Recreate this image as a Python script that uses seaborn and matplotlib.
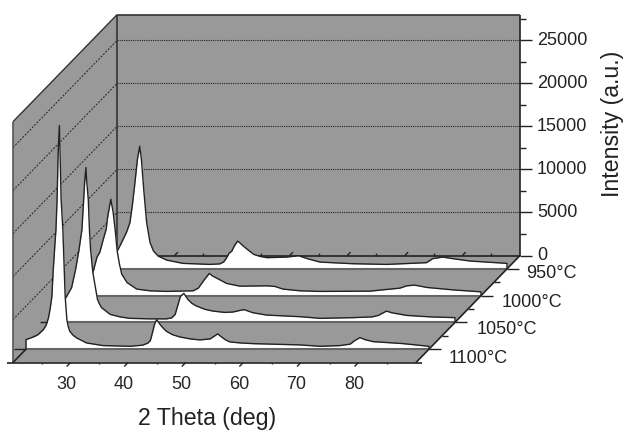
import numpy as np
import matplotlib
matplotlib.use("Agg")
import matplotlib.pyplot as plt
import seaborn as sns
from matplotlib.transforms import Affine2D, ScaledTranslation

# values
x_1100 = [20, 21.3, 22.1, 23, 23.5, 23.9, 24.2, 24.5, 24.7, 25, 25.2, 25.4, 25.6, 25.8, 25.9, 26.1, 26.4, 26.6, 26.8,
          27.1, 27.3, 27.6, 28.2, 28.8, 30.5, 33.4, 38.1, 40.3, 41.2, 41.6, 41.8, 42.1, 42.3, 42.7, 43.3, 43.9, 44.4,
          45.4, 46.7, 48.5, 50.2, 52, 52.7, 53.3, 53.9, 54.6, 55.4, 57.2, 59.4, 67.6, 71.1, 74.5, 76.3, 77.1, 78,
          78.9, 80.3, 85.5, 90]
y_1100 = [1100, 1420, 1690, 2270, 2790, 3630, 4710, 6140, 8900, 11950, 13900, 17400, 23200, 26000, 23200, 17400, 13900,
          10060, 6140, 3430, 2730, 2070, 1600, 1300, 720, 410, 330, 465, 720, 990, 1490, 2270, 2850, 3430, 2850, 2380,
          2070, 1690, 1420, 1190, 1070, 1190, 1510, 1770, 1450, 1100, 840, 720, 640, 490, 330, 410, 580, 990, 1340,
          1100, 870, 640, 330]
x_1050 = [20, 21.4, 22.4, 23.4, 24.1, 24.7, 25.2, 25.5, 25.7, 25.9, 26, 26.3, 26.5, 26.7, 27.1, 27.5, 27.9, 28.2, 28.6,
          30.1, 31.8, 33.5, 37, 39.9, 40.8, 41.4, 41.7, 42, 42.3, 42.9, 43.6, 44.3, 45.1, 46.6, 48, 50, 51.4, 52.7,
          53.4, 54.2, 54.9, 57.3, 63.1, 66.6, 72.3, 75.6, 76.7, 77.5, 78.1, 79, 81.6, 85.7, 90]
y_1050 = [1100, 2000, 2870, 4030, 6160, 8490, 10800, 14300, 16600, 18000, 16600, 14300, 10800, 8490, 5780, 4220, 2670,
          2210, 1710, 930, 640, 470, 410, 410, 520, 930, 1630, 2330, 3020, 3370, 2670, 2210, 1900, 1510, 1310, 1160,
          1200, 1400, 1480, 1280, 1120, 850, 660, 470, 550, 640, 810, 1100, 1310, 1120, 810, 640, 550]
x_1000 = [20, 21.2, 22.6, 23.3, 23.8, 24.4, 24.9, 25.1, 25.3, 25.7, 26.1, 26.5, 26.8, 27.2, 27.6, 28.5, 30.2, 32.5,
          35.4, 40, 40.9, 41.8, 42.4, 42.8, 43.4, 44.1, 45.8, 48.1, 52.8, 54.2, 55.6, 58.6, 62, 70.7, 75.9, 77.1, 78.5,
          80.6, 85.1, 90]
y_1000 = [1000, 1340, 2700, 4480, 5060, 6570, 7730, 8900, 9710, 11200, 9710, 7380, 5210, 3660, 2500, 1530, 760, 560,
          490, 560, 870, 1720, 2230, 2580, 2270, 2030, 1420, 1100, 1140, 1070, 760, 560, 490, 520, 870, 1140, 1220, 950,
          670, 440]
x_950 = [20, 21, 22.3, 22.9, 23.9, 24.5, 24.9, 25.3, 25.8, 26.2, 26.5, 26.9, 27.4, 28, 28.6, 29.4, 30.9, 33.7, 38.4,
         40.1, 40.8, 41.3, 41.7, 42.2, 42.6, 43.2, 43.6, 44.2, 45, 46, 47.1, 48.3, 51.7, 53.8, 54.9, 55.8, 57.5, 63.2,
         69.1, 76, 77.1, 78.8, 80.6, 83.6, 90]
y_950 = [1000, 1300, 2070, 2850, 4240, 5370, 7270, 9590, 12700, 14250, 12700, 9240, 5410, 3050, 2070, 1490, 1020, 640,
         520, 580, 810, 1300, 1800, 2070, 2620, 3230, 3020, 2650, 2210, 1690, 1450, 1300, 1370, 1530, 1280, 1100, 790,
         600, 520, 720, 1190, 1370, 1190, 910, 640]

series_names = ["950°C", "1000°C", "1050°C", "1100°C"]
series_x = [x_950, x_1000, x_1050, x_1100]
series_y = [y_950, y_1000, y_1050, y_1100]
series_depth = [7, 5, 3, 1]
x_major = [30, 40, 50, 60, 70, 80]
x_minor = [25, 35, 45, 55, 65, 75, 85]
y_major = [0, 5000, 10000, 15000, 20000, 25000]
y_minor = [2500, 7500, 12500, 17500, 22500, 27500]

GRAY = "#999999"
DARK = "#222222"
X0, X1, Y1 = 20, 90, 28000
DX, DY = 13 / 5.757, 13.375 / 0.0086   # one depth step in data units
BACK = 8

sns.set_style("white")
plt.rcParams['font.family'] = ['Liberation Sans', 'DejaVu Sans']
plt.rcParams['text.color'] = '#222222'

fig = plt.figure(figsize=(6.27, 4.30), dpi=100)
ax = fig.add_axes([13 / 627, 1 - 362.5 / 430, 403 / 627, 240.8 / 430])
ax.patch.set_visible(False)
sns.despine(ax=ax, left=True, bottom=True)


def depth_tr(k):
    return Affine2D().translate(k * DX, k * DY) + ax.transData


def hline(x, y, k0=0, k1=0, **kw):
    # line between two depths, x and y are lists of two values
    xs = [x[0] + k0 * DX, x[1] + k1 * DX]
    ys = [y[0] + k0 * DY, y[1] + k1 * DY]
    ax.plot(xs, ys, clip_on=False, solid_capstyle='butt', **kw)


# walls and floor
ax.fill([X0, X0 + BACK * DX, X0 + BACK * DX, X0], [0, BACK * DY, Y1 + BACK * DY, Y1], color=GRAY, lw=0, clip_on=False, zorder=1)
ax.fill([X0 + BACK * DX, X1 + BACK * DX, X1 + BACK * DX, X0 + BACK * DX], [BACK * DY, BACK * DY, Y1 + BACK * DY, Y1 + BACK * DY],
        color=GRAY, lw=0, clip_on=False, zorder=1)
ax.fill([X0, X1, X1 + BACK * DX, X0 + BACK * DX], [0, 0, BACK * DY, BACK * DY], color=GRAY, lw=0, clip_on=False, zorder=1)

# dotted grid on both walls
for v in y_major[1:]:
    hline([X0, X1], [v, v], BACK, BACK, color=DARK, lw=0.8, ls=(0, (1, 1)), zorder=2)
    hline([X0, X0], [v, v], 0, BACK, color=DARK, lw=0.7, ls=(0, (2, 1.5)), zorder=2)

# wall edges
hline([X0, X0], [0, Y1], color="#555555", lw=1.2, zorder=2)
hline([X0, X0], [0, Y1], BACK, BACK, color="#333333", lw=1.2, zorder=2)
hline([X1, X1], [0, Y1], BACK, BACK, color=DARK, lw=1.2, zorder=2)
hline([X0, X1], [Y1, Y1], BACK, BACK, color="#333333", lw=1.2, zorder=2)
hline([X0, X0], [Y1, Y1], 0, BACK, color="#333333", lw=1.0, zorder=2)
hline([X0, X1], [0, 0], BACK, BACK, color=DARK, lw=1.2, zorder=2)
hline([X0, X0], [0, 0], 0, BACK, color=DARK, lw=1.2, zorder=2)
hline([X1, X1], [0, 0], 0, BACK, color=DARK, lw=1.2, zorder=12)
hline([X0 - 1, X1 + 1], [0, 0], color=DARK, lw=1.2, zorder=12)

# ticks on the intensity axis
for v in y_major:
    hline([X1, X1 + 12 / 5.757], [v, v], BACK, BACK, color=DARK, lw=1.0, zorder=2)
for v in y_minor:
    hline([X1, X1 + 6 / 5.757], [v, v], BACK, BACK, color=DARK, lw=1.0, zorder=2)

# x ticks front and back
for v in x_major:
    hline([v, v], [0, 0], 0, -0.3, color=DARK, lw=1.0, zorder=2)
    hline([v, v], [0, 0], BACK, BACK + 0.25, color=DARK, lw=1.0, zorder=2)
for v in x_minor:
    hline([v, v], [0, -220], color=DARK, lw=1.0, zorder=2)
    hline([v, v], [0, 300], BACK, BACK, color=DARK, lw=1.0, zorder=2)

# depth ticks at both ends of the floor
for k in range(1, BACK):
    n = 12 if k % 2 else 6
    hline([X1, X1 + n / 5.757], [0, 0], k, k, color=DARK, lw=1.0, zorder=12)
    hline([X0 - n / 5.757, X0], [0, 0], k, k, color=DARK, lw=1.0, zorder=2)

# the four patterns, back to front
label_off = [(19, -4.5), (21, -7.2), (22, -7.2), (20, -9.2)]
for i in range(len(series_names)):
    k = series_depth[i]
    tr = depth_tr(k)
    z = 3 + i
    xs = np.r_[series_x[i][0], series_x[i], series_x[i][-1]]
    ys = np.r_[0, series_y[i], 0]
    ax.fill_between(xs, 0, ys, color="white", lw=0, transform=tr, clip_on=False, zorder=z)
    sns.lineplot(x=xs, y=ys, ax=ax, color=DARK, lw=1.0, sort=False, estimator=None, transform=tr, clip_on=False, zorder=z + 0.2)
    hline([X0, X1], [0, 0], k, k, color="#666666", lw=1.5, zorder=z + 0.1)
    ax.annotate(series_names[i], (X1 + k * DX, k * DY), xytext=label_off[i], textcoords='offset pixels',
                fontsize=13, ha='left', va='center', annotation_clip=False, zorder=12)

ax.set_xlim(X0, X1)
ax.set_ylim(0, Y1)
ax.set_yticks([])
ax.set_xticks(x_major)
ax.set_xticklabels([str(v) for v in x_major], fontsize=13)
ax.tick_params(axis='x', length=0, pad=10)
shift = ScaledTranslation(-4.5 / 100, 0, fig.dpi_scale_trans)
for lab in ax.get_xticklabels():
    lab.set_transform(lab.get_transform() + shift)
ax.set_xlabel("2 Theta (deg)", fontsize=16.7, color="#222222")
ax.xaxis.set_label_coords(194 / 403, -44 / 240.8)

# intensity tick labels sit on the back wall
for v in y_major:
    ax.annotate(str(v), (X1 + BACK * DX, v + BACK * DY), xytext=(17, 0), textcoords='offset pixels',
                fontsize=13, ha='left', va='center', annotation_clip=False)
fig.text(613 / 627, 1 - 124 / 430, "Intensity (a.u.)", rotation=90, fontsize=16.7, ha='center', va='center')

fig.savefig("out.png", dpi=100)
